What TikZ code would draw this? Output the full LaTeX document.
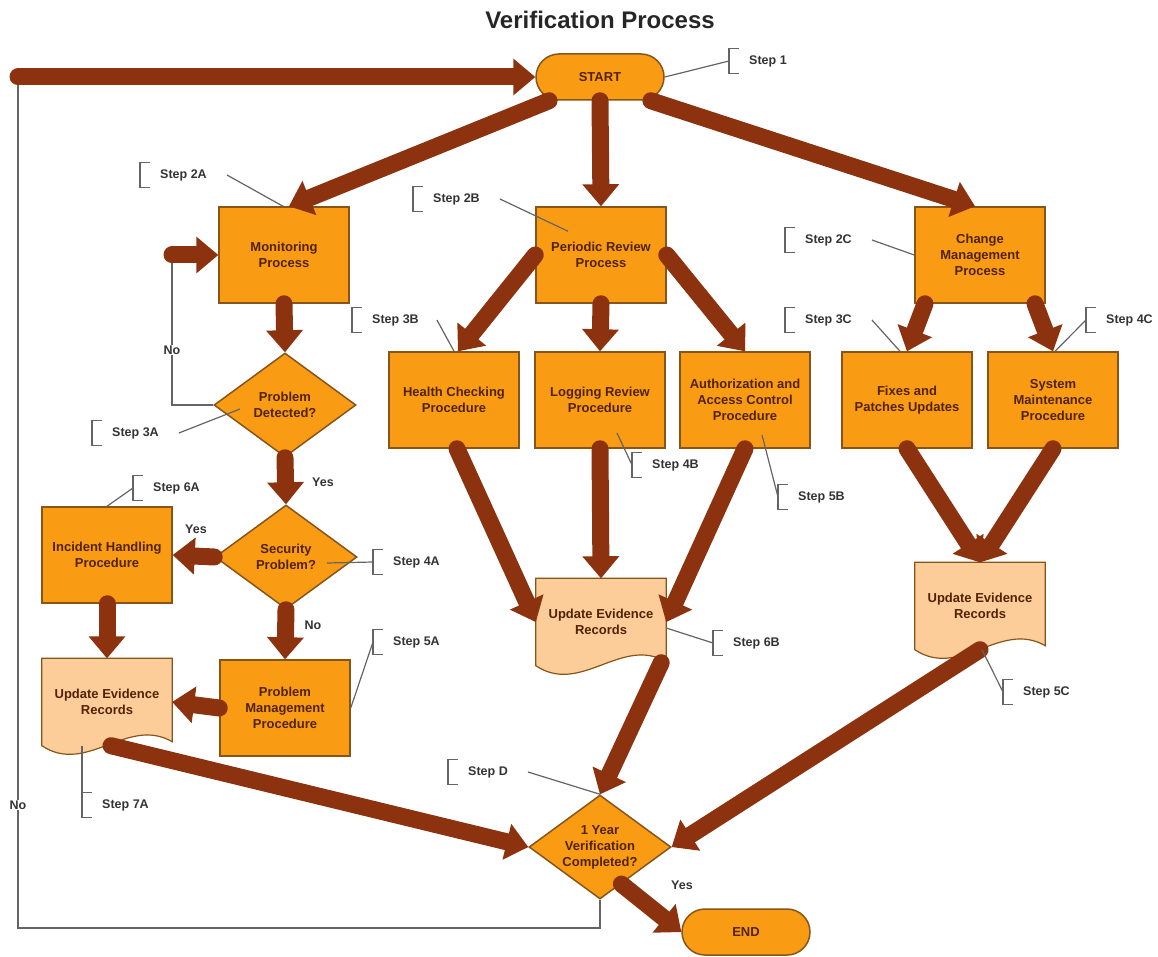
\documentclass[tikz,border=0pt]{standalone}
\usepackage{fontspec}
\setmainfont{Liberation Sans}
\usepackage{xcolor}
\usepackage{tikz}
\usetikzlibrary{arrows.meta,shapes.geometric,backgrounds}
\definecolor{boxorange}{RGB}{250,155,20}
\definecolor{boxedge}{RGB}{135,85,25}
\definecolor{docpeach}{RGB}{252,204,153}
\definecolor{flowbrown}{RGB}{140,50,15}
\definecolor{taggrey}{RGB}{100,100,100}
\definecolor{boxtext}{RGB}{80,35,5}

\begin{document}
\begin{tikzpicture}[x=1pt,y=-1pt,
    boxfont/.style={font=\fontsize{13}{16}\selectfont\bfseries,text=boxtext},
    procbox/.style={rectangle,draw=boxedge,line width=1.5pt,fill=boxorange,minimum width=130pt,minimum height=96pt,align=center,inner sep=2pt,boxfont},
    decision/.style={diamond,draw=boxedge,line width=1.5pt,fill=boxorange,minimum width=142pt,minimum height=104pt,aspect=1.35,inner sep=0pt,align=center,boxfont},
    terminal/.style={rectangle,rounded corners=23pt,draw=boxedge,line width=1.5pt,fill=boxorange,minimum width=128pt,minimum height=46pt,boxfont},
    docbox/.style={rectangle,minimum width=130pt,minimum height=87pt,align=center,boxfont},
    docline/.style={draw=boxedge,line width=1.2pt,fill=docpeach},
    flow/.style={draw=flowbrown,line width=17pt,line cap=round,-{Triangle[width=37pt,length=22pt,line width=0pt]}},
    retline/.style={draw=taggrey,line width=1.5pt},
    tagline/.style={draw=taggrey,line width=1.2pt},
    steptag/.style={anchor=west,minimum height=24pt,inner xsep=0pt,inner ysep=0pt,text=black!80,font=\fontsize{12.5}{14}\selectfont\bfseries},
    flowlabel/.style={inner sep=1pt,text=black!80,font=\fontsize{12.5}{14}\selectfont\bfseries},
    heading/.style={text=black!85,font=\fontsize{24}{28}\selectfont\bfseries}]

        \useasboundingbox (0,0) rectangle (1158,957);

        % Draw the title
        \node[heading] (title) at (600,20) {Verification Process};

        % Draw the start and end
        \node[terminal] (start) at (600,77) {START};
        \node[terminal] (stop) at (746,932) {END};

        % Draw the monitoring column
        \node[procbox] (mon) at (284,255) {Monitoring\\Process};
        \node[decision] (pd) at (285,405) {Problem\\Detected?};
        \node[decision] (sec) at (286,557) {Security\\Problem?};
        \node[procbox] (inc) at (107,555) {Incident Handling\\Procedure};
        \node[procbox] (pm) at (285,708) {Problem\\Management\\Procedure};
        \node[docbox] (uerA) at (107,702) {Update Evidence\\Records};

        % Draw the periodic review column
        \node[procbox] (per) at (601,255) {Periodic Review\\Process};
        \node[procbox] (hea) at (454,400) {Health Checking\\Procedure};
        \node[procbox] (log) at (600,400) {Logging Review\\Procedure};
        \node[procbox] (aut) at (745,400) {Authorization and\\Access Control\\Procedure};
        \node[docbox] (uerB) at (601,622) {Update Evidence\\Records};

        % Draw the change management column
        \node[procbox] (cha) at (980,255) {Change\\Management\\Process};
        \node[procbox] (fix) at (907,400) {Fixes and\\Patches Updates};
        \node[procbox] (sys) at (1053,400) {System\\Maintenance\\Procedure};
        \node[docbox] (uerC) at (980,606) {Update Evidence\\Records};

        % Draw the final check
        \node[decision] (final) at (600,847) {1 Year\\Verification\\Completed?};

        % Draw the document outlines behind the texts
        \begin{scope}[on background layer]
        \foreach \d in {uerA,uerB,uerC}
            \draw[docline] (\d.north west) -- (\d.north east) -- ([yshift=4pt]\d.south east)
                .. controls ([xshift=-45pt,yshift=30pt]\d.south east) and ([xshift=45pt,yshift=-30pt]\d.south west) .. (\d.south west) -- cycle;
        \end{scope}

        % Draw the return lines
        \coordinate (ret) at (18,77);
        \coordinate (retb) at (18,928);
        \coordinate (nob) at (172,255);
        \draw[retline] (final.south) |- (retb) -- (ret);
        \draw[retline] (pd.west) -| (nob);

        % Draw the flow arrows
        \draw[flow] (ret) -- (start.west);
        \draw[flow] (nob) -- (mon.west);
        \draw[flow] (start.-155) -- ([xshift=5pt]mon.north);
        \draw[flow] (start.south) -- (per.north);
        \draw[flow] (start.-25) -- ([xshift=-5pt]cha.north);
        \draw[flow] (mon.south) -- (pd.north);
        \draw[flow] (pd.south) -- (sec.north);
        \draw[flow] (sec.west) -- (inc.east);
        \draw[flow] (sec.south) -- (pm.north);
        \draw[flow] (inc.south) -- (uerA.north);
        \draw[flow] (pm.west) -- (uerA.east);
        \draw[flow] ([xshift=4pt]uerA.south) -- (final.west);
        \draw[flow] (per.west) -- ([xshift=4pt]hea.north);
        \draw[flow] (per.south) -- (log.north);
        \draw[flow] (per.east) -- (aut.north);
        \draw[flow] ([xshift=3pt]hea.south) -- (uerB.west);
        \draw[flow] (log.south) -- (uerB.north);
        \draw[flow] (aut.south) -- (uerB.east);
        \draw[flow] ([xshift=-5pt,yshift=3pt]uerB.south east) -- (final.north);
        \draw[flow] ([xshift=-55pt]cha.south) -- (fix.north);
        \draw[flow] ([xshift=55pt]cha.south) -- (sys.north);
        \draw[flow] (fix.south) -- (uerC.north);
        \draw[flow] (sys.south) -- (uerC.north);
        \draw[flow] (uerC.south) -- (final.east);
        \draw[flow] (final.-60) -- (stop.west);

        % Add the branch labels
        \node[flowlabel] (yes1) at (323,482) {Yes};
        \node[flowlabel] (yes2) at (196,529) {Yes};
        \node[flowlabel] (no1) at (313,625) {No};
        \node[flowlabel] (yes3) at (682,885) {Yes};
        \node[flowlabel,fill=white] (no2) at (172,350) {No};
        \node[flowlabel,fill=white] (no3) at (18,805) {No};

        % Add the step tags
        \node[steptag] (s1) at (749,61) {Step 1};
        \node[steptag] (s2a) at (160,175) {Step 2A};
        \node[steptag] (s2b) at (433,199) {Step 2B};
        \node[steptag] (s2c) at (805,240) {Step 2C};
        \node[steptag] (s3a) at (112,433) {Step 3A};
        \node[steptag] (s3b) at (372,320) {Step 3B};
        \node[steptag] (s3c) at (805,320) {Step 3C};
        \node[steptag] (s4a) at (393,562) {Step 4A};
        \node[steptag] (s4b) at (652,465) {Step 4B};
        \node[steptag] (s4c) at (1106,320) {Step 4C};
        \node[steptag] (s5a) at (393,642) {Step 5A};
        \node[steptag] (s5b) at (798,497) {Step 5B};
        \node[steptag] (s5c) at (1023,692) {Step 5C};
        \node[steptag] (s6a) at (153,488) {Step 6A};
        \node[steptag] (s6b) at (733,643) {Step 6B};
        \node[steptag] (s7a) at (102,805) {Step 7A};
        \node[steptag] (sD) at (468,772) {Step D};

        % Draw the brackets of the step tags
        \foreach \s in {s1,s2a,s2b,s2c,s3a,s3b,s3c,s4a,s4b,s4c,s5a,s5b,s5c,s6a,s6b,s7a,sD}
            \draw[tagline] ([xshift=-10pt]\s.north west) -- ([xshift=-20pt]\s.north west) -- ([xshift=-20pt]\s.south west) -- ([xshift=-10pt]\s.south west);

        % Draw the leaders of the step tags
        \draw[tagline] (start.east) -- ([xshift=-20pt]s1.west);
        \draw[tagline] ([xshift=20pt]s2a.east) -- ([xshift=-1pt]mon.north);
        \draw[tagline] ([xshift=20pt]s2b.east) -- ([xshift=-33pt,yshift=-25pt]per.north);
        \draw[tagline] ([xshift=20pt]s2c.east) -- (cha.west);
        \draw[tagline] ([xshift=20pt]s3a.east) -- ([xshift=-45pt,yshift=-4pt]pd.center);
        \draw[tagline] ([xshift=18pt]s3b.east) -- (hea.north);
        \draw[tagline] ([xshift=20pt]s3c.east) -- ([xshift=-7pt]fix.north);
        \draw[tagline] ([xshift=41pt,yshift=-6pt]sec.center) -- ([xshift=-20pt]s4a.west);
        \draw[tagline] ([xshift=17pt,yshift=-33pt]log.center) -- ([xshift=-20pt]s4b.west);
        \draw[tagline] ([xshift=2pt]sys.north) -- ([xshift=-20pt]s4c.west);
        \draw[tagline] (pm.east) -- ([xshift=-20pt]s5a.west);
        \draw[tagline] ([xshift=17pt,yshift=-35pt]aut.center) -- ([xshift=-20pt]s5b.west);
        \draw[tagline] ([xshift=2pt]uerC.south) -- ([xshift=-20pt]s5c.west);
        \draw[tagline] (inc.north) -- ([xshift=-20pt]s6a.west);
        \draw[tagline] ([yshift=-6pt]uerB.east) -- ([xshift=-20pt]s6b.west);
        \draw[tagline] ([xshift=-25pt]uerA.south) -- ([xshift=-20pt]s7a.north west);
        \draw[tagline] ([xshift=20pt]sD.east) -- (final.north);

    \end{tikzpicture}
\end{document}
